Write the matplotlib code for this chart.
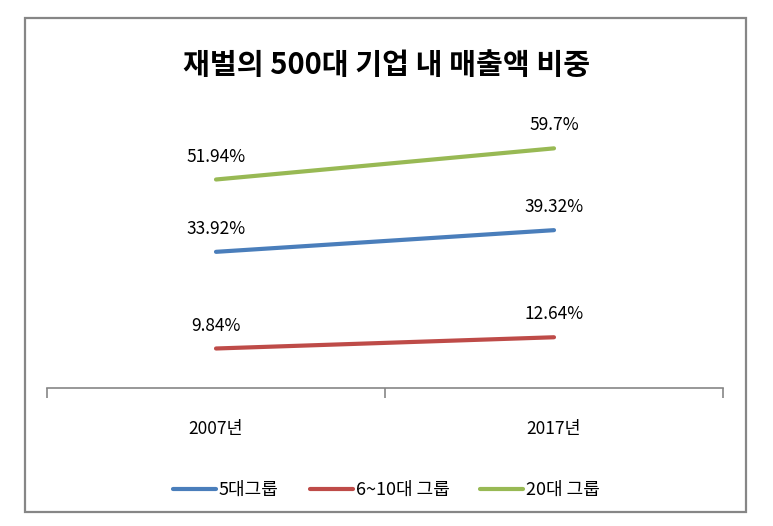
import matplotlib.pyplot as plt
from matplotlib.patches import Rectangle

plt.rcParams['font.family'] = ['Noto Sans CJK KR', 'DejaVu Sans']

years = ['2007년', '2017년']
series_names = ['5대그룹', '6~10대 그룹', '20대 그룹']
group5 = [33.92, 39.32]
group6_10 = [9.84, 12.64]
group20 = [51.94, 59.7]
labels5 = ['33.92%', '39.32%']
labels6_10 = ['9.84%', '12.64%']
labels20 = ['51.94%', '59.7%']
colors = ['#4A7EBB', '#BE4B48', '#98B954']

W, H = 773, 526
fig = plt.figure(figsize=(W / 100, H / 100), dpi=100)

# outer chart frame
fig.patches.append(Rectangle((25 / W, 1 - 512 / H), (746 - 25) / W, (512 - 18) / H,
                             transform=fig.transFigure, fill=False,
                             edgecolor='#868686', linewidth=1.6))

ax = fig.add_axes([47 / W, 1 - 388 / H, (723 - 47) / W, (388 - 107) / H])
x = list(range(len(years)))

all_series = [group5, group6_10, group20]
all_labels = [labels5, labels6_10, labels20]
for vals, labs, name, c in zip(all_series, all_labels, series_names, colors):
    ax.plot(x, vals, color=c, linewidth=3, solid_capstyle='round', label=name)
    for xi, v, t in zip(x, vals, labs):
        ax.annotate(t, (xi, v), xytext=(0, 10), textcoords='offset points',
                    ha='center', va='bottom', fontsize=12.5)

ax.set_xlim(-0.5, len(years) - 0.5)
ax.set_ylim(0, 70)
ax.set_yticks([])
for s in ['left', 'top', 'right']:
    ax.spines[s].set_visible(False)
ax.spines['bottom'].set_color('#868686')
ax.spines['bottom'].set_linewidth(1.2)

ax.set_xticks(x)
ax.set_xticklabels(years, fontsize=12.5)
ax.tick_params(axis='x', which='major', length=0, pad=23)
ax.set_xticks([-0.5, 0.5, 1.5], minor=True)
ax.tick_params(axis='x', which='minor', length=7, color='#868686', width=1.2)

fig.text(0.5, 1 - 65 / H, '재벌의 500대 기업 내 매출액 비중', ha='center', va='center',
         fontsize=21, fontweight='bold')

fig.legend(loc='center', bbox_to_anchor=(0.5, 1 - 490 / H), ncol=3, frameon=False,
           fontsize=13, handlelength=2.4, handletextpad=0.15, columnspacing=1.7)

fig.savefig('out.png', dpi=100)
